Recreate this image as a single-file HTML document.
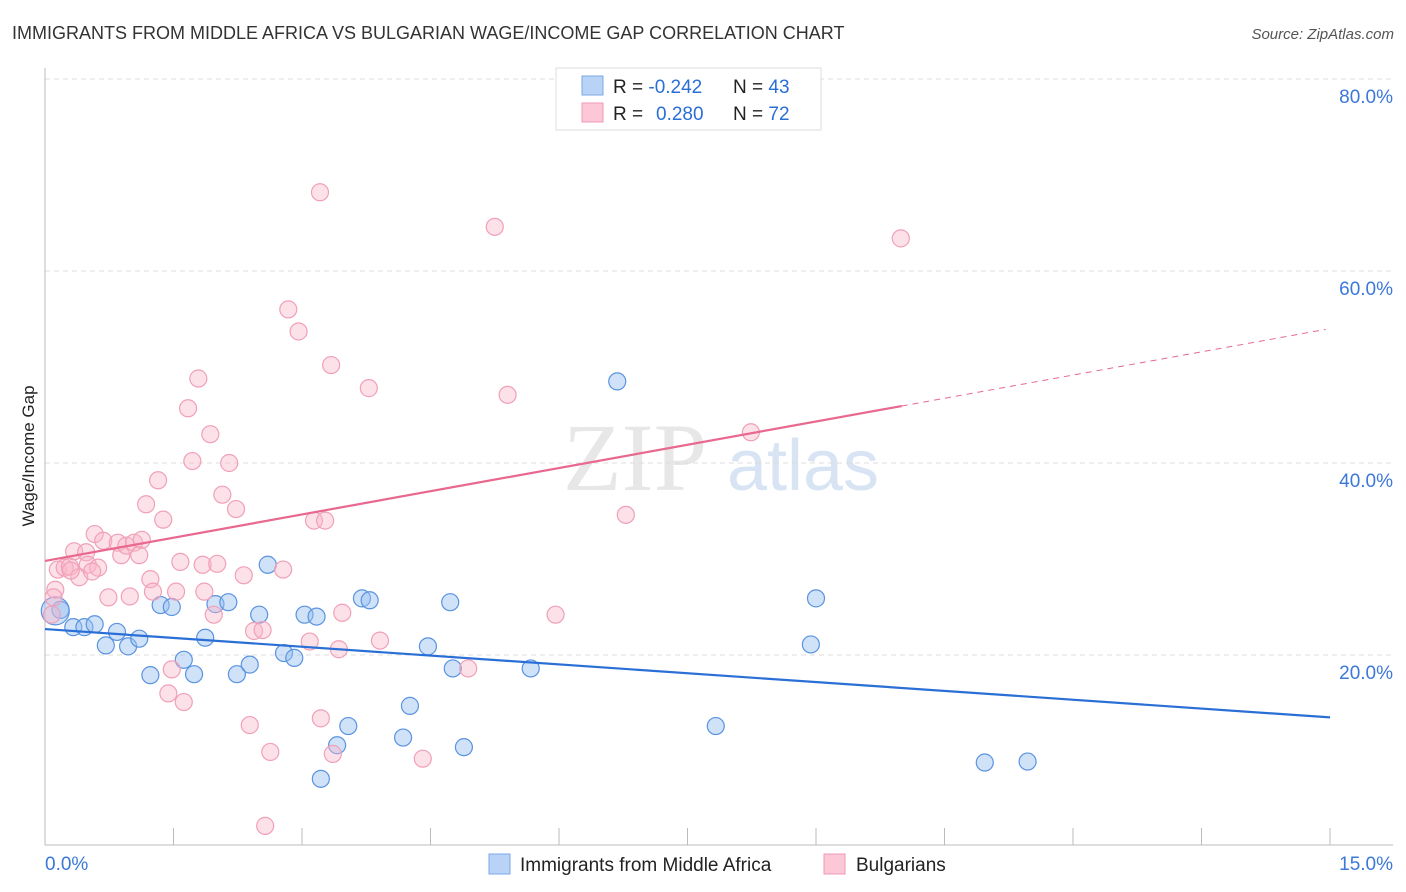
<!DOCTYPE html>
<html><head><meta charset="utf-8">
<style>
body{margin:0;background:#fff;font-family:"Liberation Sans",sans-serif;}
svg{display:block}
</style></head>
<body>
<svg id="c" width="1406" height="892" xmlns="http://www.w3.org/2000/svg">
<text x="12" y="39" font-size="18" fill="#333">IMMIGRANTS FROM MIDDLE AFRICA VS BULGARIAN WAGE/INCOME GAP CORRELATION CHART</text>
<text x="1394" y="39" font-size="15" fill="#555" font-style="italic" text-anchor="end">Source: ZipAtlas.com</text>
<text x="0" y="0" transform="translate(34,456) rotate(-90)" font-size="17" fill="#222" text-anchor="middle">Wage/Income Gap</text>
<g>
<text x="635" y="490" font-size="96" font-family="Liberation Serif,serif" fill="#ddd" text-anchor="middle" opacity="0.7">ZIP</text>
<text x="803" y="490" font-size="72" fill="#c8daf0" text-anchor="middle" opacity="0.7">atlas</text>
</g>
<g id="grid"></g>
<g id="marks"></g>
<g>
<rect x="556" y="68" width="265" height="62" fill="#fff" stroke="#ddd"/>
<rect x="582" y="76" width="21" height="19" fill="#b8d3f5" stroke="#7aaae8"/>
<text x="613" y="93" font-size="19" fill="#222">R = <tspan fill="#2a6fd6">-0.242</tspan><tspan x="733">N = </tspan><tspan fill="#2a6fd6">43</tspan></text>
<rect x="582" y="103" width="21" height="19" fill="#fcc7d7" stroke="#f09ab4"/>
<text x="613" y="120" font-size="19" fill="#222">R = <tspan x="656" fill="#2a6fd6">0.280</tspan><tspan x="733">N = </tspan><tspan fill="#2a6fd6">72</tspan></text>
</g>
<g>
<rect x="489" y="854" width="21" height="20" fill="#b8d3f5" stroke="#7aaae8"/>
<text x="520" y="871" font-size="19" fill="#222">Immigrants from Middle Africa</text>
<rect x="824" y="854" width="21" height="20" fill="#fcc7d7" stroke="#f09ab4"/>
<text x="856" y="871" font-size="19" fill="#222">Bulgarians</text>
</g>
</svg>
<script>
const yTicks=[20,40,60,80];
const yTickLabels=["20.0%","40.0%","60.0%","80.0%"];
const xTickLabels=["0.0%","15.0%"];
const blueX=[0.18,0.33,0.46,0.58,0.71,0.84,0.97,1.10,1.23,1.35,1.48,1.62,1.74,1.87,1.99,2.14,2.24,2.39,2.50,2.60,2.79,2.91,3.03,3.17,3.22,3.41,3.54,3.70,3.79,4.18,4.26,4.47,4.73,4.76,4.89,5.67,6.68,7.83,8.94,9.00,10.97,11.47,0.12];
const blueY=[24.7,22.9,22.9,23.2,21.0,22.4,20.9,21.7,17.9,25.2,25.0,19.5,18.0,21.8,25.3,25.5,18.0,19.0,24.2,29.4,20.2,19.7,24.2,24.0,7.1,10.6,12.6,25.9,25.7,11.4,14.7,20.9,25.5,18.6,10.4,18.6,48.5,12.6,21.1,25.9,8.8,8.9,24.6];
const pinkX=[0.08,0.12,0.15,0.23,0.29,0.34,0.40,0.48,0.50,0.58,0.62,0.68,0.74,0.85,0.89,0.95,0.99,1.04,1.10,1.13,1.18,1.23,1.26,1.32,1.38,1.48,1.44,1.53,1.58,1.62,1.67,1.72,1.79,1.84,1.86,1.93,1.97,2.01,2.07,2.15,2.23,2.32,2.39,2.44,2.54,2.57,2.63,2.78,2.84,2.96,3.09,3.14,3.21,3.22,3.27,3.34,3.36,3.43,3.47,3.78,3.91,4.41,4.94,5.25,5.40,5.96,6.78,8.24,9.99,0.10,0.30,0.55];
const pinkY=[24.2,26.8,28.9,29.1,29.2,30.8,28.1,30.7,29.4,32.6,29.1,31.9,26.0,31.7,30.4,31.4,26.1,31.7,30.4,32.0,35.7,27.9,26.6,38.2,34.1,18.5,16.0,26.6,29.7,15.1,45.7,40.2,48.8,29.4,26.6,43.0,24.2,29.5,36.7,40.0,35.2,28.3,12.7,22.5,22.6,2.2,9.9,28.9,56.0,53.7,21.4,34.0,68.2,13.4,34.0,50.2,9.7,20.6,24.4,47.8,21.5,9.2,18.6,64.6,47.1,24.2,34.6,43.2,63.4,26.0,28.8,28.7];
const blueTrend=[22.7,13.5];
const pinkTrend=[29.8,54.0];
const solidEnd=10.0;
const L=45,R=1330,B=847,T=79;
const xs=v=>L+(R-L)*v/15;
const ys=v=>B-(B-T)*v/80;
const NS="http://www.w3.org/2000/svg";
function mk(tag,attrs,parent){const e=document.createElementNS(NS,tag);for(const k in attrs)e.setAttribute(k,attrs[k]);parent.appendChild(e);return e;}
const grid=document.getElementById('grid'),marks=document.getElementById('marks');
yTicks.forEach((t,i)=>{
 const l=mk('line',{x1:L,x2:1393,y1:ys(t),y2:ys(t),stroke:'#ddd','stroke-dasharray':'5,4'},grid);
 
 
 const tx=mk('text',{x:1393,y:ys(t)+24,'font-size':19,fill:'#3b78d8','text-anchor':'end'},grid);
 tx.textContent=yTickLabels[i];
 
 
});
const ya=mk('line',{x1:L,x2:L,y1:68,y2:845,stroke:'#bbb'},grid);


const xa=mk('line',{x1:L,x2:1393,y1:845,y2:845,stroke:'#bbb'},grid);


for(let i=1;i<=10;i++){
 const tk=mk('line',{x1:xs(i*1.5),x2:xs(i*1.5),y1:828,y2:845,stroke:'#bbb'},grid);
 
 
}
const xl0=mk('text',{x:45,y:870,'font-size':19,fill:'#3b78d8'},grid);xl0.textContent=xTickLabels[0];


const xl1=mk('text',{x:1393,y:870,'font-size':19,fill:'#3b78d8','text-anchor':'end'},grid);xl1.textContent=xTickLabels[1];


blueX.forEach((x,i)=>{
 const c=mk('circle',{cx:xs(x),cy:ys(blueY[i]),r:i===blueX.length-1?14:8.5,fill:'rgba(150,190,240,0.45)',stroke:'#5a93e0','stroke-width':1.2},marks);
 
 
});
pinkX.forEach((x,i)=>{
 const c=mk('circle',{cx:xs(x),cy:ys(pinkY[i]),r:8.5,fill:'rgba(250,180,200,0.4)',stroke:'#f0a0b8','stroke-width':1.2},marks);
 
 
});
const pv=x=>pinkTrend[0]+(pinkTrend[1]-pinkTrend[0])*x/15;
const bl=mk('line',{x1:xs(0),y1:ys(blueTrend[0]),x2:xs(15),y2:ys(blueTrend[1]),stroke:'#2a6fd6','stroke-width':2.2},marks);


const pl=mk('line',{x1:xs(0),y1:ys(pv(0)),x2:xs(solidEnd),y2:ys(pv(solidEnd)),stroke:'#e8688f','stroke-width':2.2},marks);


const pd=mk('line',{x1:xs(solidEnd),y1:ys(pv(solidEnd)),x2:xs(14.95),y2:ys(pv(14.95)),stroke:'#e8688f','stroke-width':1,'stroke-dasharray':'6,5'},marks);


</script>
</body></html>
